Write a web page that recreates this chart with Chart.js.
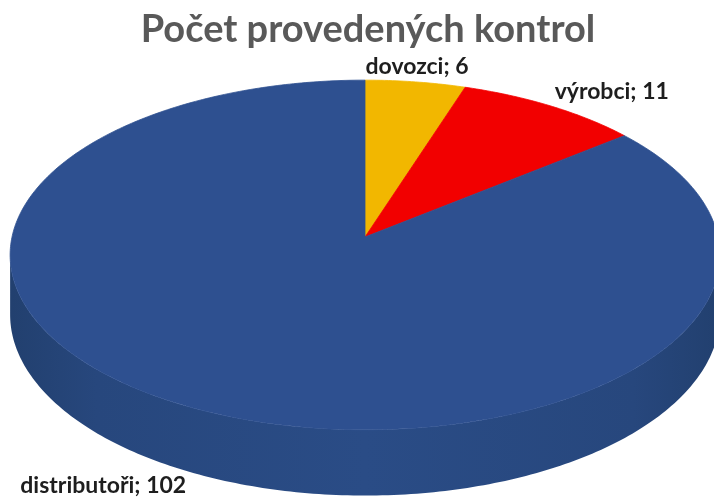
<!DOCTYPE html>
<html><head><meta charset="utf-8">
<script src="https://cdn.jsdelivr.net/npm/chart.js@4.4.1/dist/chart.umd.min.js"></script>
<style>html,body{margin:0;padding:0;background:#fff}#wrap{width:714px;height:504px}</style>
</head><body><div id="wrap"><canvas id="c" width="714" height="504"></canvas></div>
<script>
const categories = ['dovozci', 'výrobci', 'distributoři'];
const counts = [6, 11, 102];
const sliceColors = ['#F2B700', '#F20000', '#2E5090'];
const titleText = 'Počet provedených kontrol';

function proj(a, g) {
  const u = Math.cos(a), v = Math.sin(a);
  const f = 1 / (1 - g.persp * v);
  return { x: g.cx + g.rx * u * f, y: g.cy + g.ry * v * f, f: f };
}

const pie3d = {
  id: 'pie3d',
  beforeDatasetsDraw(chart, args, opts) {
    const ctx = chart.ctx;
    const g = opts;
    const arcs = chart.getDatasetMeta(0).data;
    const t1 = Math.asin(g.persp), t2 = Math.PI - Math.asin(g.persp);
    ctx.save();
    // side walls
    const grad = ctx.createLinearGradient(g.cx - g.rx, 0, g.cx + g.rx, 0);
    grad.addColorStop(0, '#22406F');
    grad.addColorStop(0.12, '#27477D');
    grad.addColorStop(0.5, '#2A4C86');
    grad.addColorStop(0.88, '#27477D');
    grad.addColorStop(1, '#22406F');
    arcs.forEach((arc, i) => {
      const p = arc.getProps(['startAngle', 'endAngle'], true);
      const a0 = Math.max(p.startAngle, t1), a1 = Math.min(p.endAngle, t2);
      if (a1 <= a0) return;
      const n = 200;
      ctx.beginPath();
      for (let k = 0; k <= n; k++) {
        const q = proj(a0 + (a1 - a0) * k / n, g);
        k === 0 ? ctx.moveTo(q.x, q.y) : ctx.lineTo(q.x, q.y);
      }
      for (let k = n; k >= 0; k--) {
        const q = proj(a0 + (a1 - a0) * k / n, g);
        ctx.lineTo(q.x, q.y + g.depth * q.f);
      }
      ctx.closePath();
      ctx.fillStyle = i === 2 ? grad : arc.options.backgroundColor;
      ctx.fill();
    });
    // top faces
    arcs.forEach((arc) => {
      const p = arc.getProps(['startAngle', 'endAngle'], true);
      const n = Math.max(8, Math.ceil((p.endAngle - p.startAngle) * 80));
      ctx.beginPath();
      ctx.moveTo(g.cx, g.cy);
      for (let k = 0; k <= n; k++) {
        const q = proj(p.startAngle + (p.endAngle - p.startAngle) * k / n, g);
        ctx.lineTo(q.x, q.y);
      }
      ctx.closePath();
      ctx.fillStyle = arc.options.backgroundColor;
      ctx.strokeStyle = arc.options.backgroundColor;
      ctx.lineWidth = 0.8;
      ctx.fill();
      ctx.stroke();
    });
    ctx.restore();
    return false;
  },
  afterDraw(chart, args, opts) {
    const ctx = chart.ctx;
    const arcs = chart.getDatasetMeta(0).data;
    ctx.save();
    ctx.font = opts.labelFont;
    ctx.fillStyle = opts.labelColor;
    ctx.textAlign = 'center';
    ctx.textBaseline = 'alphabetic';
    arcs.forEach((arc, i) => {
      const p = arc.getProps(['startAngle', 'endAngle'], true);
      const q = proj((p.startAngle + p.endAngle) / 2, opts);
      const off = opts.labelOffsets[i];
      ctx.fillText(chart.data.labels[i] + '; ' + chart.data.datasets[0].data[i], q.x + off[0], q.y + off[1]);
    });
    ctx.restore();
  }
};

new Chart(document.getElementById('c'), {
  type: 'pie',
  data: {
    labels: categories,
    datasets: [{ data: counts, backgroundColor: sliceColors, borderWidth: 0 }]
  },
  options: {
    responsive: false,
    animation: false,
    events: [],
    layout: { padding: { left: 22 } },
    plugins: {
      legend: { display: false },
      tooltip: { enabled: false },
      title: {
        display: true,
        text: titleText,
        color: '#595959',
        font: { family: 'Lato', size: 38, weight: 'bold' },
        padding: { top: 7, bottom: 0 }
      },
      pie3d: {
        cx: 365, cy: 237, rx: 353, ry: 173, persp: 0.1028, depth: 59,
        labelFont: 'bold 23px Lato',
        labelColor: '#1E1E1E',
        labelOffsets: [[1.5, -8], [61, -7], [-93, 84]]
      }
    }
  },
  plugins: [pie3d]
});
</script>
</body></html>
